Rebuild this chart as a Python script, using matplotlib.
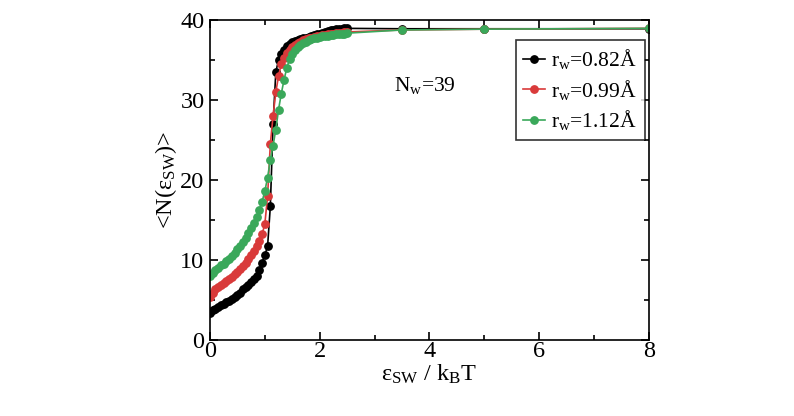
import matplotlib
matplotlib.use("Agg")
import matplotlib.pyplot as plt
from matplotlib.ticker import MultipleLocator

plt.rcParams['font.family'] = ['Liberation Serif', 'DejaVu Serif']
plt.rcParams['mathtext.fontset'] = 'custom'
plt.rcParams['mathtext.rm'] = 'Liberation Serif'
plt.rcParams['mathtext.it'] = 'Liberation Serif:italic'

x = [0.0, 0.05, 0.1, 0.15, 0.2, 0.25, 0.3, 0.35, 0.4, 0.45,
     0.5, 0.55, 0.6, 0.65, 0.7, 0.75, 0.8, 0.85, 0.9, 0.95,
     1.0, 1.05, 1.1, 1.15, 1.2, 1.25, 1.3, 1.35, 1.4, 1.45,
     1.5, 1.55, 1.6, 1.65, 1.7, 1.75, 1.8, 1.85, 1.9, 1.95,
     2.0, 2.05, 2.1, 2.15, 2.2, 2.25, 2.3, 2.35, 2.4, 2.45,
     2.5, 3.5, 5.0, 8.0]

n_082 = [3.3, 3.7, 3.9, 4.1, 4.3, 4.5, 4.7, 4.9, 5.1, 5.3,
         5.6, 5.9, 6.3, 6.6, 6.9, 7.2, 7.6, 8.0, 8.7, 9.6,
         10.6, 11.7, 16.7, 27.0, 33.5, 35.0, 35.8, 36.3, 36.7, 37.0,
         37.2, 37.4, 37.5, 37.6, 37.7, 37.8, 37.9, 38.0, 38.1, 38.2,
         38.3, 38.4, 38.5, 38.6, 38.7, 38.8, 38.85, 38.9, 38.9, 38.95,
         38.95, 38.9, 38.9, 38.9]

n_099 = [5.3, 5.9, 6.3, 6.6, 6.9, 7.1, 7.4, 7.6, 7.9, 8.2,
         8.5, 8.8, 9.2, 9.6, 10.1, 10.6, 11.1, 11.7, 12.4, 13.2,
         14.5, 18.0, 24.5, 28.0, 31.0, 33.0, 34.5, 35.3, 35.9, 36.3,
         36.6, 36.9, 37.1, 37.3, 37.45, 37.6, 37.7, 37.8, 37.9, 38.0,
         38.05, 38.1, 38.15, 38.2, 38.25, 38.3, 38.35, 38.4, 38.4, 38.45,
         38.5, 38.75, 38.85, 38.95]

n_112 = [8.0, 8.4, 8.7, 9.0, 9.3, 9.5, 9.8, 10.1, 10.5, 10.9,
         11.3, 11.8, 12.3, 12.8, 13.4, 14.0, 14.6, 15.4, 16.2, 17.3,
         18.6, 20.3, 22.5, 24.3, 26.3, 28.8, 30.8, 32.5, 34.0, 35.1,
         35.8, 36.3, 36.6, 36.9, 37.1, 37.3, 37.45, 37.6, 37.7, 37.8,
         37.9, 37.95, 38.0, 38.05, 38.1, 38.15, 38.2, 38.25, 38.3, 38.3,
         38.35, 38.75, 38.85, 38.95]

labels = [r'r$_\mathrm{w}$=0.82Å', r'r$_\mathrm{w}$=0.99Å', r'r$_\mathrm{w}$=1.12Å']
colors = ['#000000', '#d93a3a', '#3aa85a']

fig = plt.figure(figsize=(7.94, 4.16), dpi=100)
ax = fig.add_axes([0.2645, 0.183, 0.5525, 0.769])

for y, lab, c in zip([n_082, n_099, n_112], labels, colors):
    ax.plot(x, y, '-o', color=c, lw=1.2, ms=5.3, mec=c, label=lab)

ax.set_xlim(0, 8)
ax.set_ylim(0, 40)
ax.xaxis.set_major_locator(MultipleLocator(2))
ax.xaxis.set_minor_locator(MultipleLocator(1))
ax.yaxis.set_major_locator(MultipleLocator(10))
ax.yaxis.set_minor_locator(MultipleLocator(5))
ax.tick_params(which='both', direction='in', top=True, right=True, width=1.2, labelsize=17.5)
ax.tick_params(which='major', length=6)
ax.tick_params(axis='x', which='major', pad=1)
ax.tick_params(axis='y', which='major', pad=4)
ax.tick_params(which='minor', length=3.5)
for s in ax.spines.values():
    s.set_linewidth(1.2)

ax.set_xlabel(r'ε$_\mathrm{SW}$ / k$_\mathrm{B}$T', fontsize=17.5, labelpad=0)
ax.set_ylabel(r'<N(ε$_\mathrm{SW}$)>', fontsize=17.5, labelpad=1)

ax.text(3.35, 31.8, r'N$_\mathrm{w}$=39', fontsize=15.5, ha='left', va='center')

leg = ax.legend(loc='upper right', fontsize=15.5, frameon=True, fancybox=False,
                edgecolor='black', handlelength=1.0, handletextpad=0.3,
                borderpad=0.35, labelspacing=0.3, borderaxespad=0.0,
                bbox_to_anchor=(0.991, 0.9375))
leg.get_frame().set_linewidth(1.2)

fig.savefig('out.png', dpi=100)
